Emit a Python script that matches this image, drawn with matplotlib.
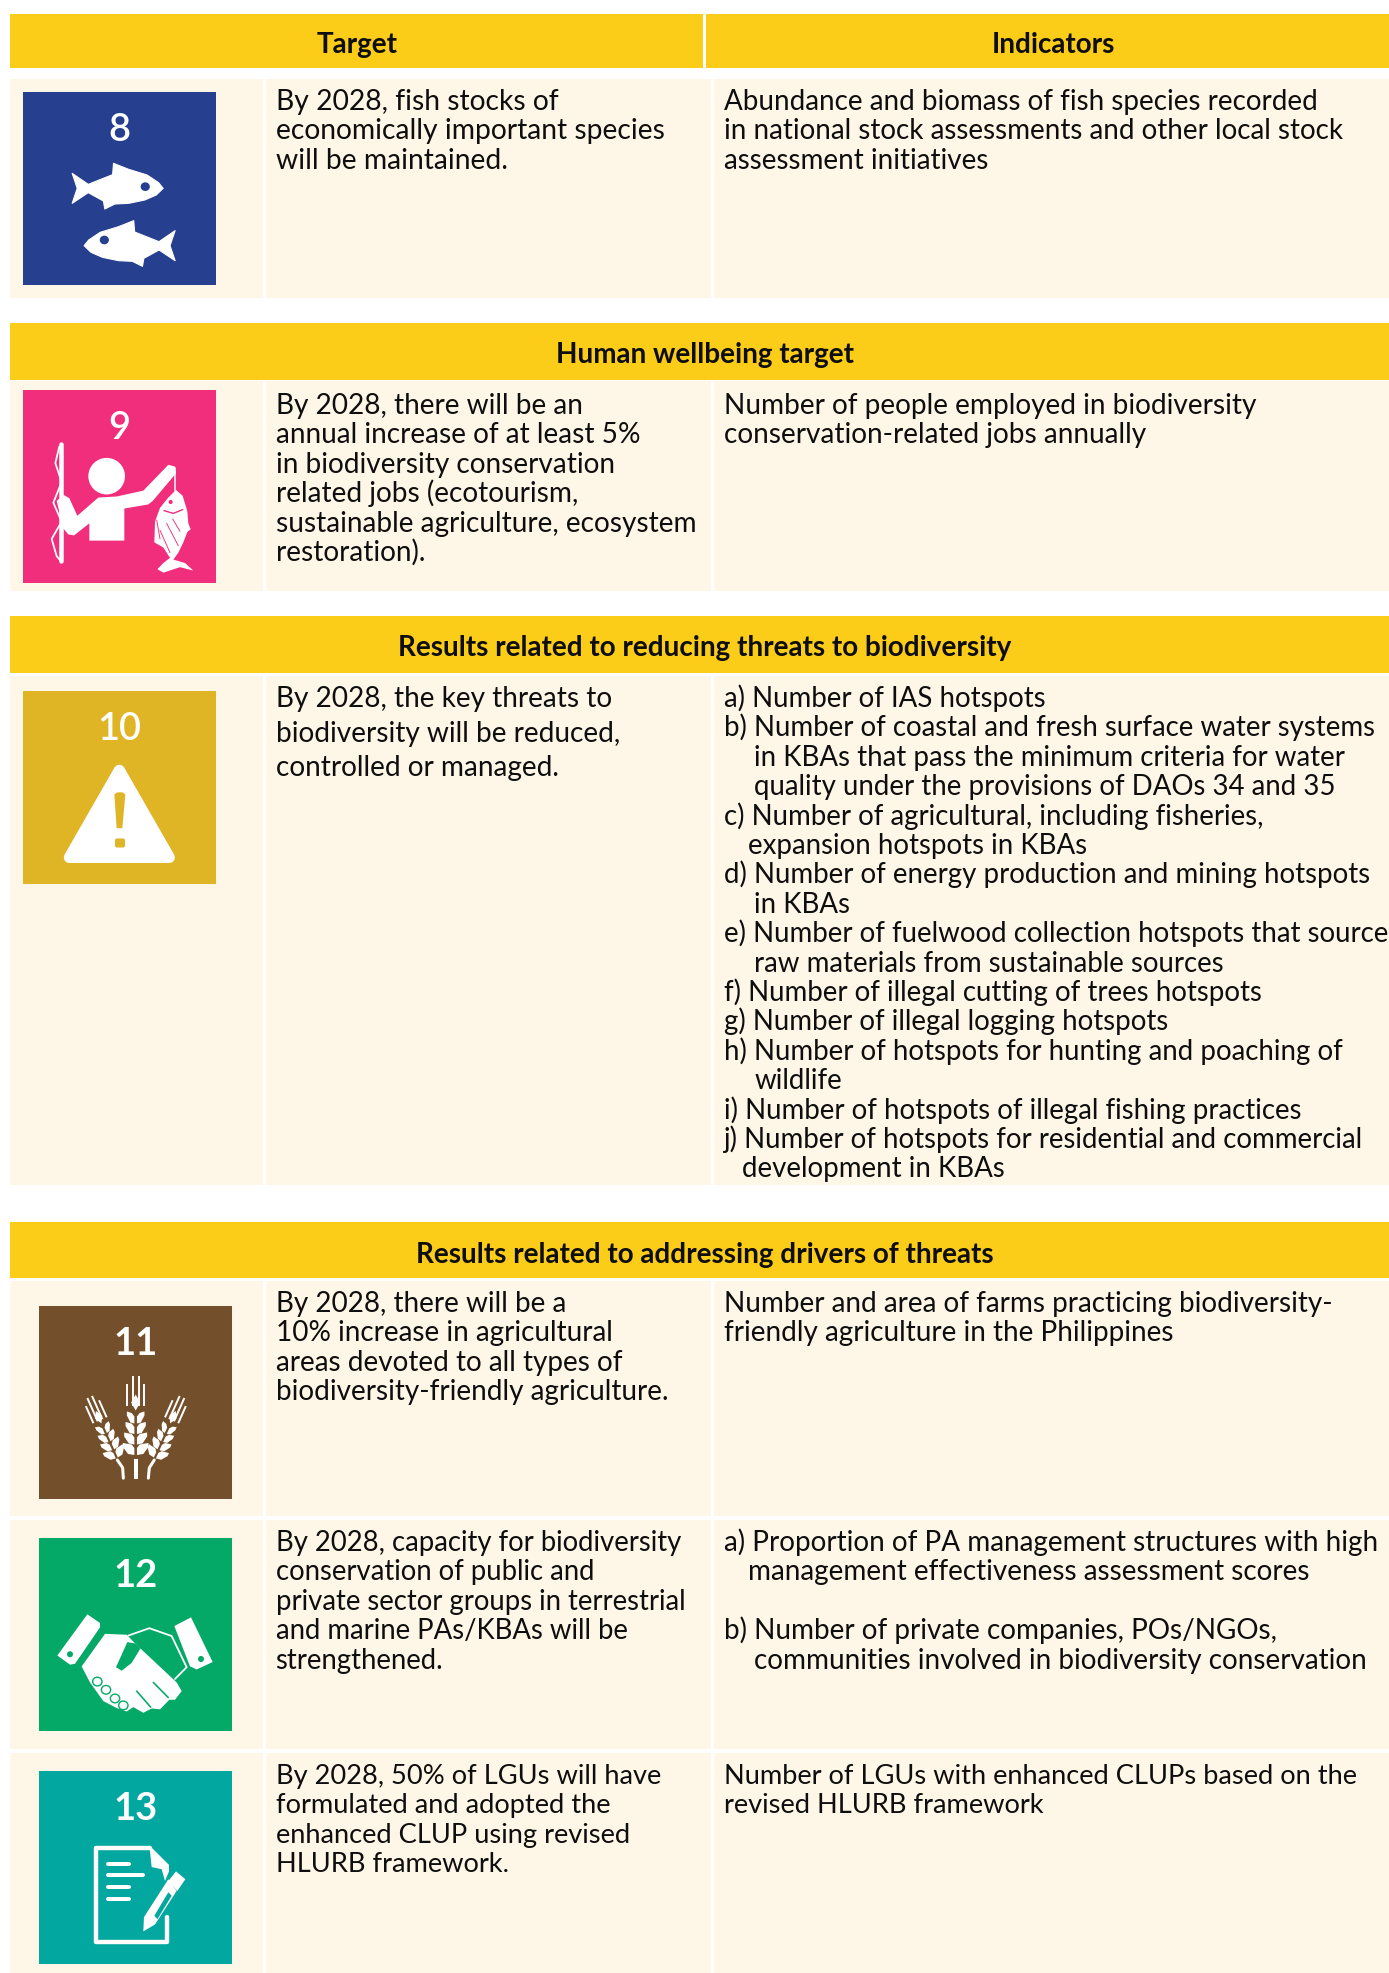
import numpy as np
import matplotlib
matplotlib.use("Agg")
import matplotlib.pyplot as plt
from matplotlib.patches import Rectangle, Polygon, Ellipse, FancyBboxPatch
from matplotlib.lines import Line2D

W, H = 1389, 1973
FONT = "Lato"
BODY_PX = 27.2
HEAD_PX = 27.95
YELLOW = "#FBCD18"
CREAM = "#FEF6E6"
INK = "#0E0E0E"

header_titles = ["Target", "Indicators", "Human wellbeing target",
                 "Results related to reducing threats to biodiversity",
                 "Results related to addressing drivers of threats"]
target_8 = ["By 2028, fish stocks of", "economically important species", "will be maintained."]
indicator_8 = ["Abundance and biomass of fish species recorded",
               "in national stock assessments and other local stock", "assessment initiatives"]
target_9 = ["By 2028, there will be an", "annual increase of at least 5%", "in biodiversity conservation",
            "related jobs (ecotourism,", "sustainable agriculture, ecosystem", "restoration)."]
indicator_9 = ["Number of people employed in biodiversity", "conservation-related jobs annually"]
target_10 = ["By 2028, the key threats to", "biodiversity will be reduced,", "controlled or managed."]
indicator_10 = [("a) Number of IAS hotspots", 0),
                ("b) Number of coastal and fresh surface water systems", 0),
                ("in KBAs that pass the minimum criteria for water", 31),
                ("quality under the provisions of DAOs 34 and 35", 31),
                ("c) Number of agricultural, including fisheries,", 0),
                ("expansion hotspots in KBAs", 25),
                ("d) Number of energy production and mining hotspots", 0),
                ("in KBAs", 31),
                ("e) Number of fuelwood collection hotspots that source", 0),
                ("raw materials from sustainable sources", 31),
                ("f) Number of illegal cutting of trees hotspots", 0),
                ("g) Number of illegal logging hotspots", 0),
                ("h) Number of hotspots for hunting and poaching of", 0),
                ("wildlife", 31),
                ("i) Number of hotspots of illegal fishing practices", 0),
                ("j) Number of hotspots for residential and commercial", 0),
                ("development in KBAs", 19)]
target_11 = ["By 2028, there will be a", "10% increase in agricultural", "areas devoted to all types of",
             "biodiversity-friendly agriculture."]
indicator_11 = ["Number and area of farms practicing biodiversity-", "friendly agriculture in the Philippines"]
target_12 = ["By 2028, capacity for biodiversity", "conservation of public and",
             "private sector groups in terrestrial", "and marine PAs/KBAs will be", "strengthened."]
indicator_12 = [("a) Proportion of PA management structures with high", 0),
                ("management effectiveness assessment scores", 25),
                ("", 0),
                ("b) Number of private companies, POs/NGOs,", 0),
                ("communities involved in biodiversity conservation", 31)]
target_13 = ["By 2028, 50% of LGUs will have", "formulated and adopted the",
             "enhanced CLUP using revised", "HLURB framework."]
indicator_13 = ["Number of LGUs with enhanced CLUPs based on the", "revised HLURB framework"]
icon_numbers = ["8", "9", "10", "11", "12", "13"]
icon_colors = ["#26408F", "#F02E7B", "#DFB425", "#744F2B", "#04A968", "#02A89F"]
icon_weights = ["semibold", "semibold", "semibold", "bold", "bold", "bold"]

fig = plt.figure(figsize=(W / 100, H / 100), dpi=100, facecolor="white")
ax = fig.add_axes([0, 0, 1, 1])
ax.set_xlim(0, W)
ax.set_ylim(H, 0)
ax.axis("off")


def rect(x0, y0, x1, y1, c):
    ax.add_patch(Rectangle((x0, y0), x1 - x0, y1 - y0, fc=c, ec="none", lw=0))


def px(p):
    return p * 0.72


def head(txt, cx, cy):
    ax.text(cx, cy, txt, ha="center", va="center_baseline", family=FONT, weight="bold",
            fontsize=px(HEAD_PX), color=INK)


def block(lines, x, y_first, step, scale=1.0):
    for i, ln in enumerate(lines):
        t, off = ln if isinstance(ln, tuple) else (ln, 0)
        if t:
            ax.text(x + off, y_first + i * step, t, ha="left", va="baseline", family=FONT,
                    fontsize=px(BODY_PX * scale), color=INK)


# headers
rect(10, 14, 703, 68, YELLOW)
rect(706, 14, 1389, 68, YELLOW)
head(header_titles[0], 357, 42.5)
head(header_titles[1], 1053, 42.5)
for (y0, y1, i, dy) in [(323, 380, 2, 1), (616, 673, 3, 1), (1222, 1278, 4, 2)]:
    rect(10, y0, 1389, y1, YELLOW)
    head(header_titles[i], 705, (y0 + y1) / 2 + dy)

# cells
for (y0, y1) in [(79, 298), (381, 591), (676, 1185), (1281, 1516), (1520, 1749), (1753, 1973)]:
    rect(10, y0, 263, y1, CREAM)
    rect(266, y0, 711, y1, CREAM)
    rect(714, y0, 1389, y1, CREAM)

XT, XI = 275.5, 723.5
STEP = 29.4
block(target_8, XT, 110, STEP, 1.037)
block(indicator_8, XI, 110, STEP, 1.02)
block(target_9, XT, 414, STEP, 1.028)
block(indicator_9, XI, 414, STEP, 1.03)
block(target_10, XT, 707, 34.6, 1.03)
block(indicator_10, XI, 707, STEP, 1.015)
block(target_11, XT, 1312, STEP, 1.026)
block(indicator_11, XI, 1312, STEP, 1.026)
block(target_12, XT, 1551, STEP, 1.012)
block(indicator_12, XI, 1551, STEP, 1.027)
block(target_13, XT, 1784, STEP, 1.003)
block(indicator_13, XI, 1784, STEP, 1.003)

# icons
SIZE = 193
boxes = [(23, 92), (23, 390), (23, 691), (39, 1306), (39, 1538), (39, 1771)]
num_y = [127, 425, 726, 1341, 1573, 1806]
for (x, y), c, n, ny, wt in zip(boxes, icon_colors, icon_numbers, num_y, icon_weights):
    rect(x, y, x + SIZE, y + SIZE, c)
    ax.text(x + SIZE / 2, ny, n, ha="center", va="center_baseline", family=FONT, weight=wt,
            fontsize=px(38), color="white")


def mapper(box, x0, x1, y0, y1):
    def f(p):
        p = np.asarray(p, float)
        return np.column_stack([box[0] + (p[:, 0] - x0) / (x1 - x0) * SIZE,
                                box[1] + (p[:, 1] - y0) / (y1 - y0) * SIZE])
    return f


def poly(f, pts, c="white", **kw):
    ax.add_patch(Polygon(f(pts), closed=True, fc=c, ec=kw.pop("ec", "none"), lw=kw.pop("lw", 0),
                         joinstyle="round", **kw))


def line(f, pts, lw, c="white"):
    q = f(pts)
    ax.add_line(Line2D(q[:, 0], q[:, 1], color=c, lw=lw * 0.72, solid_capstyle="round",
                       solid_joinstyle="round"))


def ell(f, cx, cy, rx, ry, c="white", **kw):
    a = f([[cx, cy]])[0]
    b = f([[cx + rx, cy + ry]])[0]
    ax.add_patch(Ellipse(a, 2 * (b[0] - a[0]), 2 * (b[1] - a[1]), fc=c, **kw))


# --- 8: fish
f8 = mapper(boxes[0], 50, 470, 276, 855)
fish = [(157, 520), (192, 553), (245, 524), (247, 490), (280, 508), (320, 525), (345, 548), (355, 565),
        (340, 585), (315, 600), (280, 610), (250, 612), (228, 627), (225, 603), (192, 578), (157, 610), (168, 565)]
poly(f8, fish, ec="white", lw=0.8)
ell(f8, 316, 560, 10, 13, icon_colors[0], ec="none")
fish2 = [(538 - a, b + 172) for a, b in fish]
poly(f8, fish2, ec="white", lw=0.8)
ell(f8, 227, 720, 10, 13, icon_colors[0], ec="none")

# --- 9: fisher
f9 = mapper(boxes[1], 69, 648, 58, 618)
ell(f9, 320, 308, 55, 53)
poly(f9, [(268, 495), (373, 495), (373, 402), (445, 390), (458, 380), (528, 300), (525, 280), (505, 275),
          (430, 350), (350, 367), (295, 370), (232, 423), (208, 372), (190, 362), (170, 380), (190, 460),
          (205, 477), (222, 480), (268, 445)])
line(f9, [(183, 215), (183, 555)], 4.5)
line(f9, [(178, 222), (166, 270), (185, 325), (160, 385), (185, 440), (155, 490), (170, 540), (183, 555)], 1.8)
line(f9, [(526, 285), (526, 352)], 1.5)
poly(f9, [(528, 348), (548, 365), (562, 410), (565, 445), (572, 462), (562, 470), (550, 500), (535, 530), (520, 550),
          (555, 560), (580, 582), (540, 572), (490, 588), (472, 578), (490, 560), (510, 545), (490, 515), (472, 505),
          (463, 500), (465, 440), (480, 400), (505, 370)])
ell(f9, 512, 383, 6, 6, icon_colors[1])
line(f9, [(492, 408), (520, 416), (548, 405)], 1.4, icon_colors[1])
for a, b in [((518, 432), (540, 468)), ((500, 445), (535, 510)), ((480, 465), (510, 530)), ((470, 435), (480, 490))]:
    line(f9, [a, b], 0.9, icon_colors[1])

# --- 10: warning
f10 = mapper(boxes[2], 69, 648, 932, 1492)
poly(f10, [(358, 1162), (508, 1415), (208, 1415)], ec="white", lw=8)
poly(f10, [(343, 1232), (352, 1226), (368, 1226), (376, 1232), (367, 1330), (350, 1330)], c=icon_colors[2])
ax.add_patch(FancyBboxPatch(f10([[345, 1360]])[0], 10, 9, boxstyle="round,pad=0,rounding_size=2",
                            fc=icon_colors[2], ec="none"))

# --- 11: wheat
f11 = mapper(boxes[3], 57, 636, 37, 482)


def wheat(angle, pivot, scale=1.0):
    rot = np.deg2rad(angle)
    R = np.array([[np.cos(rot), -np.sin(rot)], [np.sin(rot), np.cos(rot)]])
    base = f11([pivot])[0]

    def g(pts):
        return (R @ (np.asarray(pts, float) * scale).T).T + base

    def gp(pts):
        ax.add_patch(Polygon(g(pts), closed=True, fc="white", ec="none", lw=0))

    for x, top in ((-8.5, -72), (-3, -80), (3, -80), (8.5, -72)):
        q = g([(x, top), (x, -50)])
        ax.add_line(Line2D(q[:, 0], q[:, 1], color="white", lw=1.4, solid_capstyle="butt"))
    gp([(0, -62), (4.5, -54), (0, -46), (-4.5, -54)])
    for k in range(4):
        y = -40 + k * 10.5
        wd = 6.5 + k * 1.0
        for s in (-1, 1):
            gp([(s * 1.3, y + 7), (s * wd * 0.8, y + 6), (s * wd * 1.35, y - 1), (s * wd * 1.35, y - 5),
                (s * 4, y - 3.5), (s * 1.3, y)])


wheat(0, (347, 384))
wheat(-24, (292, 390), 0.85)
wheat(24, (403, 390), 0.85)
rect(*f11([[341, 390]])[0], *f11([[353, 437]])[0], "white")
line(f11, [(292, 392), (308, 410), (310, 434)], 3)
line(f11, [(403, 392), (388, 410), (385, 434)], 3)

# --- 12: handshake
GREEN = icon_colors[4]
f12 = mapper(boxes[4], 57, 636, 572, 1017)
poly(f12, [(112, 843), (202, 748), (240, 768), (240, 778), (165, 862), (150, 864)])
ell(f12, 150, 840, 9, 7, GREEN)
poly(f12, [(463, 775), (513, 755), (578, 858), (530, 875), (510, 868)])
ell(f12, 543, 851, 9, 7, GREEN)
line(f12, [(325, 797), (388, 780), (455, 798), (500, 870), (465, 897)], 1.8)
poly(f12, [(185, 868), (255, 793), (320, 795), (345, 815), (470, 905), (485, 925), (465, 945), (448, 945),
           (420, 967), (395, 965), (370, 975), (340, 962), (320, 972), (290, 964), (250, 948), (210, 905)])
poly(f12, [(288, 870), (322, 812), (345, 815), (362, 826), (335, 860), (305, 878)], c=GREEN)
line(f12, [(400, 905), (445, 940)], 1.6, GREEN)
line(f12, [(350, 925), (392, 962)], 1.6, GREEN)
for cx, cy in [(232, 903), (258, 922), (285, 942), (310, 958)]:
    ell(f12, cx, cy, 14, 10, "white", ec=GREEN, lw=1.0)

# --- 13: document
f13 = mapper(boxes[5], 57, 636, 1109, 1553)
line(f13, [(390, 1285), (228, 1285), (228, 1503), (440, 1503), (440, 1445)], 4.4)
poly(f13, [(388, 1280), (447, 1325), (447, 1340), (435, 1362), (425, 1335), (395, 1330)])
for xa, xb, y in [(265, 328, 1322), (265, 370, 1349), (265, 328, 1377), (265, 328, 1404)]:
    line(f13, [(xa, y), (xb, y)], 4)
poly(f13, [(370, 1478), (372, 1445), (445, 1358), (470, 1385), (405, 1462)])
poly(f13, [(403, 1442), (445, 1388), (455, 1396), (412, 1450)], c=icon_colors[5])
poly(f13, [(445, 1362), (468, 1340), (496, 1358), (472, 1385)])

fig.savefig("out.png", dpi=100, facecolor="white")
